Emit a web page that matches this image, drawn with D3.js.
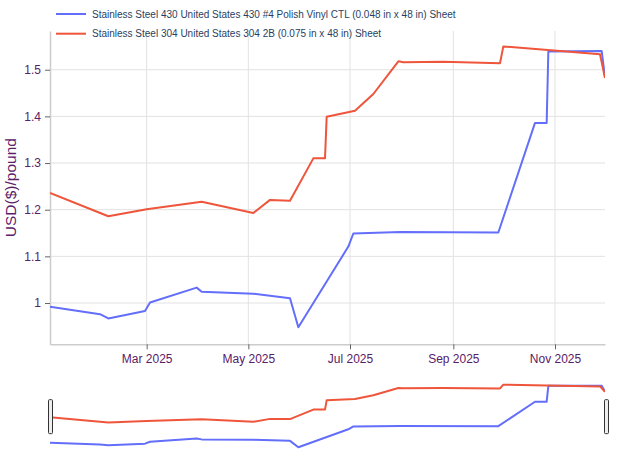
<!DOCTYPE html>
<html>
<head>
<meta charset="utf-8">
<script src="https://cdn.jsdelivr.net/npm/d3@7"></script>
<style>
  html, body { margin: 0; padding: 0; background: #fff; }
  svg { display: block; font-family: "Liberation Sans", Arial, Helvetica, sans-serif; }
</style>
</head>
<body>
<svg id="chart" width="641" height="450"></svg>
<script>
// ---------- data ----------
const seriesNames = [
  "Stainless Steel 430 United States 430 #4 Polish Vinyl CTL (0.048 in x 48 in) Sheet",
  "Stainless Steel 304 United States 304 2B (0.075 in x 48 in) Sheet"
];
const seriesColors = ["#636efa", "#ef553b"];

const blueDates = ["2025-01-02","2025-02-01","2025-02-06","2025-02-28","2025-03-03","2025-03-31","2025-04-03","2025-05-04","2025-05-26","2025-05-31","2025-06-30","2025-07-03","2025-07-31","2025-09-28","2025-10-20","2025-10-27","2025-10-28","2025-11-29","2025-12-01"];
const blueValues = [0.992,0.976,0.967,0.983,1.001,1.033,1.024,1.020,1.010,0.948,1.121,1.149,1.152,1.151,1.386,1.386,1.539,1.540,1.484];

const redDates = ["2025-01-02","2025-02-06","2025-03-01","2025-04-03","2025-05-04","2025-05-14","2025-05-26","2025-06-09","2025-06-16","2025-06-17","2025-07-04","2025-07-15","2025-07-30","2025-08-02","2025-08-26","2025-09-29","2025-10-01","2025-11-28","2025-12-01"];
const redValues = [1.236,1.186,1.201,1.217,1.193,1.221,1.219,1.310,1.310,1.399,1.412,1.448,1.518,1.516,1.517,1.514,1.550,1.533,1.482];

const xTickDates = ["2025-03-01","2025-05-01","2025-07-01","2025-09-01","2025-11-01"];
const yTickValues = [1, 1.1, 1.2, 1.3, 1.4, 1.5];
const yTickLabels = ["1", "1.1", "1.2", "1.3", "1.4", "1.5"];
const yDomain = [0.9115, 1.583];
const yTitle = "USD($)/pound";

// ---------- setup ----------
const parse = d3.utcParse("%Y-%m-%d");
const series = [
  { name: seriesNames[0], color: seriesColors[0], pts: blueDates.map((d, i) => ({ x: parse(d), y: blueValues[i] })) },
  { name: seriesNames[1], color: seriesColors[1], pts: redDates.map((d, i) => ({ x: parse(d), y: redValues[i] })) }
];
const allDates = blueDates.concat(redDates).map(parse);

const plot = { left: 50, right: 605, top: 31, bottom: 344.3 };
const slider = { top: 381.2, bottom: 451.1 };
const tickColor = "#5a2068";

const svg = d3.select("#chart");

const x = d3.scaleUtc().domain(d3.extent(allDates)).range([plot.left, plot.right]);
const y = d3.scaleLinear().domain(yDomain).range([plot.bottom, plot.top]);
const ys = d3.scaleLinear().domain(yDomain).range([slider.bottom, slider.top]);

// clip paths
const defs = svg.append("defs");
defs.append("clipPath").attr("id", "clipMain").append("rect")
  .attr("x", plot.left).attr("y", plot.top)
  .attr("width", plot.right - plot.left).attr("height", plot.bottom - plot.top);
defs.append("clipPath").attr("id", "clipSlider").append("rect")
  .attr("x", plot.left).attr("y", slider.top)
  .attr("width", plot.right - plot.left).attr("height", slider.bottom - slider.top);

// gridlines
const xTicks = xTickDates.map(parse);
svg.append("g").selectAll("line").data(xTicks).join("line")
  .attr("x1", d => x(d)).attr("x2", d => x(d))
  .attr("y1", plot.top).attr("y2", plot.bottom)
  .attr("stroke", "#e2e2e2").attr("stroke-width", 1);
svg.append("g").selectAll("line").data(yTickValues).join("line")
  .attr("x1", plot.left).attr("x2", plot.right)
  .attr("y1", d => y(d)).attr("y2", d => y(d))
  .attr("stroke", "#e2e2e2").attr("stroke-width", 1);

// axes
const xAxis = d3.axisBottom(x).tickValues(xTicks).tickFormat(d3.utcFormat("%b %Y")).tickSize(5).tickPadding(5).tickSizeOuter(0);
const gx = svg.append("g").attr("transform", `translate(0,${plot.bottom})`).call(xAxis);
gx.select(".domain").attr("stroke", "#cccccc").attr("stroke-width", 1.5);
gx.selectAll(".tick line").attr("stroke", "#666");
gx.selectAll(".tick text").attr("fill", tickColor).attr("font-size", 12).attr("font-family", "Liberation Sans, Arial, sans-serif");

const yAxis = d3.axisLeft(y).tickValues(yTickValues).tickFormat((d, i) => yTickLabels[i]).tickSize(5).tickPadding(4).tickSizeOuter(0);
const gy = svg.append("g").attr("transform", `translate(${plot.left},0)`).call(yAxis);
gy.select(".domain").attr("stroke", "#cccccc").attr("stroke-width", 1.5);
gy.selectAll(".tick line").attr("stroke", "#666");
gy.selectAll(".tick text").attr("fill", tickColor).attr("font-size", 12).attr("font-family", "Liberation Sans, Arial, sans-serif");

// y title
svg.append("text")
  .attr("transform", `translate(10,${(plot.top + plot.bottom) / 2}) rotate(-90)`)
  .attr("text-anchor", "middle").attr("dominant-baseline", "central")
  .attr("fill", tickColor).attr("font-size", 15.5)
  .text(yTitle);

// main lines
const lineMain = d3.line().x(d => x(d.x)).y(d => y(d.y));
svg.append("g").attr("clip-path", "url(#clipMain)")
  .selectAll("path").data(series).join("path")
  .attr("d", d => lineMain(d.pts))
  .attr("fill", "none").attr("stroke", d => d.color).attr("stroke-width", 2)
  .attr("stroke-linejoin", "round");

// range slider
const lineSlider = d3.line().x(d => x(d.x)).y(d => ys(d.y));
svg.append("g").attr("clip-path", "url(#clipSlider)")
  .selectAll("path").data(series).join("path")
  .attr("d", d => lineSlider(d.pts))
  .attr("fill", "none").attr("stroke", d => d.color).attr("stroke-width", 2)
  .attr("stroke-linejoin", "round");

const handleH = 34;
const handleY = (slider.top + slider.bottom) / 2 - handleH / 2 + 0.5;
svg.append("g").selectAll("rect").data(x.range()).join("rect")
  .attr("x", (d, i) => i === 0 ? d - 1.5 : d - 0.5)
  .attr("y", handleY).attr("width", 4).attr("height", handleH)
  .attr("rx", 1).attr("fill", "#eee").attr("stroke", "#333").attr("stroke-width", 1);

// legend
const legend = svg.append("g");
const li = legend.selectAll("g").data(series).join("g")
  .attr("transform", (d, i) => `translate(0,${14 + i * 19.7})`);
li.append("line").attr("x1", 56).attr("x2", 86).attr("y1", 0).attr("y2", 0)
  .attr("stroke", d => d.color).attr("stroke-width", 2);
li.append("text").attr("x", 92).attr("y", 0).attr("dy", "0.35em")
  .attr("font-size", 10).attr("fill", "#2a3f5f")
  .text(d => d.name);
</script>
</body>
</html>
